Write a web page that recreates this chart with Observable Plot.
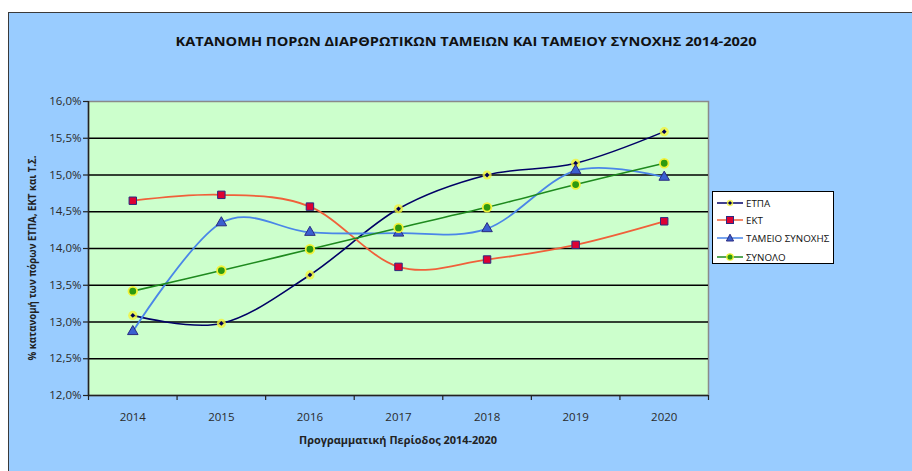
<!DOCTYPE html>
<html>
<head>
<meta charset="utf-8">
<script src="https://cdn.jsdelivr.net/npm/d3@7"></script>
<script src="https://cdn.jsdelivr.net/npm/@observablehq/plot@0.6"></script>
<style>
  html, body { margin: 0; padding: 0; background: #fff; }
  #wrap { position: relative; width: 912px; height: 471px; overflow: hidden; font-family: "Open Sans", "Noto Sans", sans-serif; }
  #frame { position: absolute; left: 8px; top: 12px; width: 920px; height: 480px; background: #99CCFF; border-left: 1.5px solid #3a3a3a; border-top: 1.5px solid #3a3a3a; }
  #chart { position: absolute; left: 0; top: 0; }
  #titles { position: absolute; left: 0; top: 0; pointer-events: none; }
  #legend { position: absolute; left: 712px; top: 191px; width: 122px; height: 73px; background: #fff; border: 1px solid #000; box-sizing: border-box; }
  .lg { position: absolute; left: 3px; height: 16px; display: flex; align-items: center; font-size: 9.8px; color: #111; white-space: nowrap; }
  .lg svg { margin-right: 2px; }
</style>
</head>
<body>
<div id="wrap">
  <div id="frame"></div>
  <div id="chart"></div>
  <svg id="titles" width="912" height="471"></svg>
  <div id="legend"></div>
</div>
<script>
// ---- data ----
const years = [2014, 2015, 2016, 2017, 2018, 2019, 2020];
const seriesNames = ["ΕΤΠΑ", "ΕΚΤ", "ΤΑΜΕΙΟ ΣΥΝΟΧΗΣ", "ΣΥΝΟΛΟ"];
const etpa   = [13.09, 12.98, 13.64, 14.54, 15.00, 15.16, 15.59];
const ekt    = [14.65, 14.73, 14.57, 13.75, 13.85, 14.05, 14.37];
const tameio = [12.87, 14.35, 14.22, 14.21, 14.27, 15.06, 14.97];
const synolo = [13.42, 13.70, 13.99, 14.28, 14.56, 14.87, 15.16];
const yTicks = [12.0, 12.5, 13.0, 13.5, 14.0, 14.5, 15.0, 15.5, 16.0];
const titleText = "ΚΑΤΑΝΟΜΗ ΠΟΡΩΝ ΔΙΑΡΘΡΩΤΙΚΩΝ ΤΑΜΕΙΩΝ ΚΑΙ ΤΑΜΕΙΟΥ ΣΥΝΟΧΗΣ 2014-2020";
const xTitle = "Προγραμματική Περίοδος 2014-2020";
const yTitle = "% κατανομή των πόρων ΕΤΠΑ, ΕΚΤ και Τ.Σ.";

const rows = (vals) => years.map((yr, i) => ({year: yr, value: vals[i]}));
const dEtpa = rows(etpa), dEkt = rows(ekt), dTam = rows(tameio), dSyn = rows(synolo);
const boundaries = years.map(y => y - 0.5).concat([years[years.length - 1] + 0.5]);

const C = {
  etpaLine: "#000066", etpaFill: "#000055", halo: "#F2F23A",
  ektLine: "#F0603A", ektFill: "#DD0033", edge: "#2A2A80",
  tamLine: "#4A86E8", tamFill: "#3A5FD0",
  synLine: "#1E8A1E", synFill: "#2E9A10"
};

const fmt = d => d.toFixed(1).replace(".", ",") + "%";

const chart = Plot.plot({
  width: 912, height: 471,
  marginLeft: 88, marginRight: 204, marginTop: 101, marginBottom: 76,
  style: { background: "transparent", fontFamily: "'Open Sans', 'Noto Sans', sans-serif", fontSize: "11px", color: "#222", overflow: "visible" },
  x: { type: "linear", domain: [2013.5, 2020.5], label: null },
  y: { domain: [12, 16], label: null },
  marks: [
    Plot.frame({ fill: "#CCFFCC", stroke: "#8a8a8a", strokeWidth: 1.5 }),
    Plot.ruleY(yTicks.slice(1, -1), { stroke: "#000", strokeWidth: 1.6 }),
    Plot.ruleX([2013.5], { stroke: "#222", strokeWidth: 1.5 }),
    Plot.ruleY([12], { stroke: "#222", strokeWidth: 1.5 }),
    Plot.axisY({ ticks: yTicks, tickFormat: fmt, tickSize: 5, tickPadding: 2, stroke: "#222", strokeWidth: 1.2, fontSize: 11.5, fill: "#2a2a2a" }),
    Plot.axisX({ ticks: boundaries, tickFormat: () => "", tickSize: 5, stroke: "#222", strokeWidth: 1.2 }),
    Plot.axisX({ ticks: years, tickFormat: d => String(d), tickSize: 0, tickPadding: 17, fontSize: 11.5, fill: "#2a2a2a" }),
    // lines
    Plot.line(dEtpa, { x: "year", y: "value", stroke: C.etpaLine, strokeWidth: 1.6, curve: "cardinal" }),
    Plot.line(dEkt,  { x: "year", y: "value", stroke: C.ektLine,  strokeWidth: 1.8, curve: "cardinal" }),
    Plot.line(dTam,  { x: "year", y: "value", stroke: C.tamLine,  strokeWidth: 1.8, curve: "cardinal" }),
    Plot.line(dSyn,  { x: "year", y: "value", stroke: C.synLine,  strokeWidth: 1.6, curve: "cardinal" }),
    // markers
    Plot.dot(dEtpa, { x: "year", y: "value", r: 4.6, fill: C.halo, fillOpacity: 0.8 }),
    Plot.dot(dEtpa, { x: "year", y: "value", r: 1.9, symbol: "square", rotate: 45, fill: C.etpaFill }),
    Plot.dot(dEkt,  { x: "year", y: "value", r: 4.2, symbol: "square", fill: C.ektFill, stroke: C.edge, strokeWidth: 1 }),
    Plot.dot(dTam,  { x: "year", y: "value", r: 3.9, symbol: "triangle", fill: C.tamFill, stroke: C.edge, strokeWidth: 1 }),
    Plot.dot(dSyn,  { x: "year", y: "value", r: 4.3, fill: C.synFill, stroke: C.halo, strokeWidth: 1.8 })
  ]
});
document.getElementById("chart").appendChild(chart);

// titles
const ns = "http://www.w3.org/2000/svg";
const tsvg = document.getElementById("titles");
function addText(txt, x, y, opts) {
  const t = document.createElementNS(ns, "text");
  t.textContent = txt;
  t.setAttribute("x", x); t.setAttribute("y", y);
  t.setAttribute("text-anchor", "middle");
  t.setAttribute("dominant-baseline", "central");
  t.setAttribute("font-family", "'Open Sans', 'Noto Sans', sans-serif");
  t.setAttribute("font-weight", "bold");
  t.setAttribute("font-size", opts.size);
  t.setAttribute("fill", opts.fill || "#111");
  if (opts.len) { t.setAttribute("textLength", opts.len); t.setAttribute("lengthAdjust", "spacingAndGlyphs"); }
  if (opts.rotate) t.setAttribute("transform", `rotate(-90 ${x} ${y})`);
  tsvg.appendChild(t);
}
addText(titleText, 466, 41, { size: 13, len: 581 });
addText(xTitle, 398, 439, { size: 11, len: 198, fill: "#222" });
addText(yTitle, 32, 258, { size: 10.5, len: 205, fill: "#222", rotate: true });

// legend
const legend = document.getElementById("legend");
const lgDefs = [
  { name: seriesNames[0], line: C.etpaLine, marker: `<circle cx="14" cy="7" r="3.2" fill="${C.halo}" opacity="0.8"/><path d="M14 5 L16 7 L14 9 L12 7Z" fill="${C.etpaFill}"/>` },
  { name: seriesNames[1], line: C.ektLine, marker: `<rect x="10.5" y="3.5" width="7" height="7" fill="${C.ektFill}" stroke="${C.edge}" stroke-width="1"/>` },
  { name: seriesNames[2], line: C.tamLine, marker: `<path d="M14 3.2 L17.6 10 L10.4 10Z" fill="${C.tamFill}" stroke="${C.edge}" stroke-width="1"/>` },
  { name: seriesNames[3], line: C.synLine, marker: `<circle cx="14" cy="7" r="3.2" fill="${C.synFill}" stroke="${C.halo}" stroke-width="1.3"/>` }
];
const tops = [3, 20, 38, 57];
lgDefs.forEach((d, i) => {
  const el = document.createElement("div");
  el.className = "lg";
  el.style.top = tops[i] + "px";
  el.innerHTML = `<svg width="28" height="14"><line x1="1" y1="7" x2="27" y2="7" stroke="${d.line}" stroke-width="1.5"/>${d.marker}</svg><span>${d.name}</span>`;
  legend.appendChild(el);
});
</script>
</body>
</html>
